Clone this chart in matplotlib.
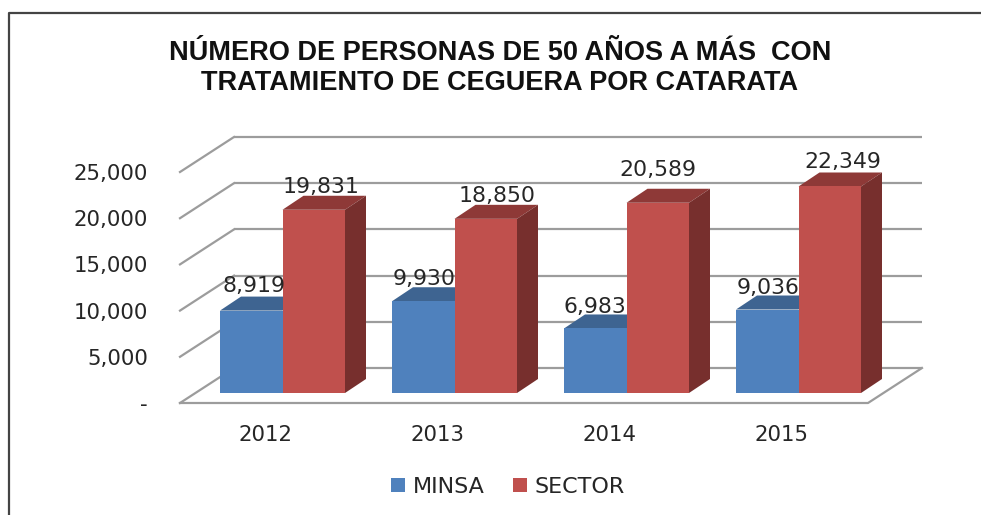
import matplotlib
matplotlib.use("Agg")
import matplotlib.pyplot as plt
from matplotlib.lines import Line2D
from matplotlib.patches import Patch, Polygon
from matplotlib.transforms import Affine2D

years = ["2012", "2013", "2014", "2015"]
minsa = [8919, 9930, 6983, 9036]
sector = [19831, 18850, 20589, 22349]
y_ticks = [0, 5000, 10000, 15000, 20000, 25000]
title = "NÚMERO DE PERSONAS DE 50 AÑOS A MÁS  CON\nTRATAMIENTO DE CEGUERA POR CATARATA"

W, H = 981, 515
TXT = "#262626"
GRID = "#9C9C9C"
BLUE, BLUE_TOP = "#4F81BD", "#3E6491"
RED, RED_TOP, RED_SIDE = "#C0504D", "#8E3937", "#772F2D"

fig = plt.figure(figsize=(W / 100, H / 100), dpi=100, facecolor="white")
L, R, B, T = 180, 868, 403, 172
ax = fig.add_axes([L / W, 1 - B / H, (R - L) / W, (B - T) / H])
ax.set_xlim(-0.5, 3.5)
ax.set_ylim(0, 25000)
ax.patch.set_visible(False)
for s in ax.spines.values():
    s.set_visible(False)


def shifted(dx, dy):
    return ax.transData + Affine2D().translate(dx, dy)


# 3-D illusion: depth offsets in pixels
WALL = (54, 35)
PLANE = (16.5, 10)
DEPTH = (21, 14)
BW = 62.5 / 172

wall = shifted(*WALL)
for v in y_ticks:
    ax.plot([-0.5, 3.5], [v, v], transform=wall, color=GRID, lw=1.6, zorder=1,
            clip_on=False, solid_capstyle="butt")
    # diagonal side-wall line, from front corner to back corner
    p0 = ax.transData.transform((-0.5, v))
    ax.add_line(Line2D([p0[0], p0[0] + WALL[0]], [p0[1], p0[1] + WALL[1]],
                       transform=Affine2D(), color=GRID, lw=1.6, zorder=1, clip_on=False))
# floor outline
p0 = ax.transData.transform((-0.5, 0))
p1 = ax.transData.transform((3.5, 0))
ax.add_line(Line2D([p0[0], p1[0], p1[0] + WALL[0]], [p0[1], p1[1], p1[1] + WALL[1]],
                   transform=Affine2D(), color=GRID, lw=1.6, zorder=1, clip_on=False))

plane = shifted(*PLANE)
xs = list(range(len(years)))


def box(x0, x1, v, front, top, side, z):
    ax.bar(x0, v, width=x1 - x0, align="edge", color=front, transform=plane,
           zorder=z + 1, clip_on=False, linewidth=0)
    a = plane.transform((x0, v))
    b = plane.transform((x1, v))
    c = plane.transform((x1, 0))
    dx, dy = DEPTH
    ax.add_patch(Polygon([a, b, (b[0] + dx, b[1] + dy), (a[0] + dx, a[1] + dy)],
                         closed=True, transform=Affine2D(), fc=top, ec="none", zorder=z,
                         clip_on=False))
    if side:
        ax.add_patch(Polygon([b, c, (c[0] + dx, c[1] + dy), (b[0] + dx, b[1] + dy)],
                             closed=True, transform=Affine2D(), fc=side, ec="none", zorder=z,
                             clip_on=False))


for i in xs:
    box(i - BW, i, minsa[i], BLUE, BLUE_TOP, None, 2 + i * 2)
    box(i, i + BW, sector[i], RED, RED_TOP, RED_SIDE, 3 + i * 2)

# label nudges in pixels, relative to the bar's front-top centre
minsa_nudge = [(3, 25), (1, 22), (0, 21), (1, 22)]
sector_nudge = [(7, 23), (11, 23), (0, 33), (13, 24)]
for i in xs:
    for x, v, n in ((i - BW / 2, minsa[i], minsa_nudge[i]),
                    (i + BW / 2, sector[i], sector_nudge[i])):
        ax.annotate(f"{v:,}", (x, v), xycoords=plane, xytext=(n[0] * 0.72, n[1] * 0.72),
                    textcoords="offset points", ha="center", va="center",
                    fontsize=15.8, color=TXT, zorder=30, annotation_clip=False)

ax.set_xticks(xs, years)
ax.set_yticks(y_ticks, [f"{v:,}" if v else "-" for v in y_ticks])
ax.tick_params(axis="x", length=0, pad=15.5, labelsize=15.3, labelcolor=TXT)
ax.tick_params(axis="y", length=0, pad=23, labelsize=15.3, labelcolor=TXT)

fig.text(500 / W, 1 - 68 / H, title, ha="center", va="center", fontsize=19.5,
         family="Liberation Sans", fontweight="bold", color="#111111", linespacing=1.2)

fig.legend(handles=[Patch(fc=BLUE, ec="none", label="MINSA"),
                    Patch(fc=RED, ec="none", label="SECTOR")],
           loc="center", bbox_to_anchor=(508 / W, 1 - 487 / H), ncol=2, frameon=False,
           fontsize=16, labelcolor=TXT, handlelength=0.62, handleheight=0.62,
           handletextpad=0.35, columnspacing=1.3, borderpad=0)

# outer frame: only the top and left edges show
fig.add_artist(Line2D([9 / W, 9 / W, 1], [0, 1 - 13 / H, 1 - 13 / H],
                      transform=fig.transFigure, color="#444444", lw=1.6))

fig.savefig("out.png", dpi=100)
